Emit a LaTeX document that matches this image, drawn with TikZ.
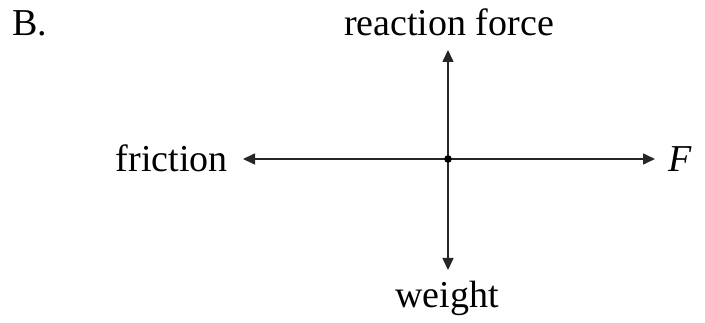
\documentclass[tikz,border=0pt]{standalone}
\usepackage{fontspec}
\setmainfont{Liberation Serif}
\usetikzlibrary{arrows.meta}
\begin{document}
\begin{tikzpicture}[x=1pt,y=-1pt,
  force/.style={line width=1.6pt,draw=black!85,-{Triangle[length=12pt,width=11pt]}},
  lbl/.style={font=\fontsize{38}{40}\selectfont,inner sep=0pt,anchor=base}]
\useasboundingbox (0,0) rectangle (705,323);
\coordinate (o) at (448,159);
\coordinate (up) at (448,50);
\coordinate (dn) at (448,270);
\coordinate (lt) at (243,159);
\coordinate (rt) at (655,159);
\draw[force] (o) -- (up);
\draw[force] (o) -- (dn);
\draw[force] (o) -- (lt);
\draw[force] (o) -- (rt);
\fill (o) circle (3.8pt);
\node[lbl] (rf) at (449,36) {reaction force};
\node[lbl] (wt) at (447,308) {weight};
\node[lbl,anchor=base east] (fr) at (228,172) {friction};
\node[lbl,anchor=base west] (F) at (668,172) {\itshape F};
\node[lbl,anchor=base west] (B) at (12,36) {B.};
\end{tikzpicture}
\end{document}
